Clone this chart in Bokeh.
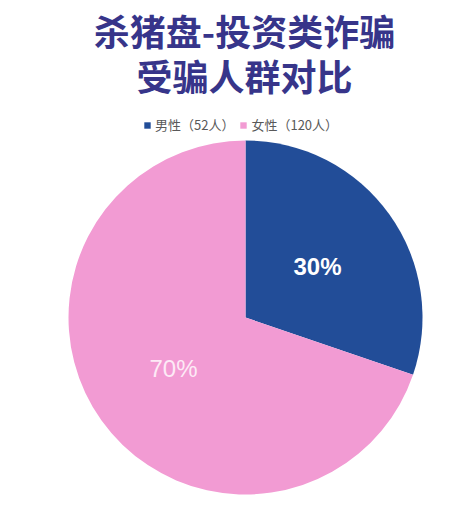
from math import pi, cos, sin

from bokeh.core.properties import value
from bokeh.embed import file_html
from bokeh.models import ColumnDataSource, Legend, LegendItem, Range1d
from bokeh.plotting import figure
from bokeh.resources import INLINE

# data
title_lines = ["杀猪盘-投资类诈骗", "受骗人群对比"]
groups = ["男性（52人）", "女性（120人）"]
counts = [52, 120]
colors = ["#224d98", "#f29bd3"]
label_colors = ["#ffffff", "#fdeaf6"]
label_styles = ["bold", "normal"]

W, H = 452, 501
CX, CY, R = 245, 184, 177

total = float(sum(counts))
fracs = [c / total for c in counts]
starts, ends, mids = [], [], []
acc = 0.0
for f in fracs:
    starts.append(pi / 2 - acc * 2 * pi)
    mids.append(pi / 2 - (acc + f / 2) * 2 * pi)
    acc += f
    ends.append(pi / 2 - acc * 2 * pi)

source = ColumnDataSource(data=dict(
    group=groups, count=counts, color=colors,
    start=starts, end=ends,
    pct=["%d%%" % round(f * 100) for f in fracs],
    lx=[CX + 0.5 * R * cos(a) for a in mids],
    ly=[CY + 0.5 * R * sin(a) for a in mids],
    lcolor=label_colors, lstyle=label_styles,
))

p = figure(width=W, height=H, output_backend="svg", toolbar_location=None,
           x_range=Range1d(0, W), y_range=Range1d(0, H), min_border=0)
p.axis.visible = False
p.xgrid.visible = p.ygrid.visible = False
p.outline_line_color = None
p.background_fill_color = "white"

wedges = p.wedge(x=CX, y=CY, radius=R, start_angle="start", end_angle="end",
                 direction="clock", fill_color="color", line_color=None,
                 source=source)

p.text(x="lx", y="ly", text="pct", text_color="lcolor",
       text_font_style="lstyle", text_font=value("Liberation Sans"),
       text_font_size="24px", text_align="center", text_baseline="middle",
       source=source)

p.text(x=[244, 244], y=[472, 427], text=title_lines, text_color="#37358a",
       text_font=value("Noto Sans CJK SC"), text_font_style="bold",
       text_font_size="36px", text_align="center", text_baseline="middle")

legend = Legend(items=[LegendItem(label=g, renderers=[wedges], index=i)
                       for i, g in enumerate(groups)],
                location=(143, 367), orientation="horizontal",
                glyph_width=8, glyph_height=8, label_standoff=4,
                label_height=14, spacing=5, padding=0, margin=0,
                border_line_color=None, background_fill_alpha=0,
                label_text_font="Noto Sans CJK SC",
                label_text_font_size="13px", label_text_color="#595959")
p.add_layout(legend)

open("out.html", "w").write(file_html(p, INLINE))
